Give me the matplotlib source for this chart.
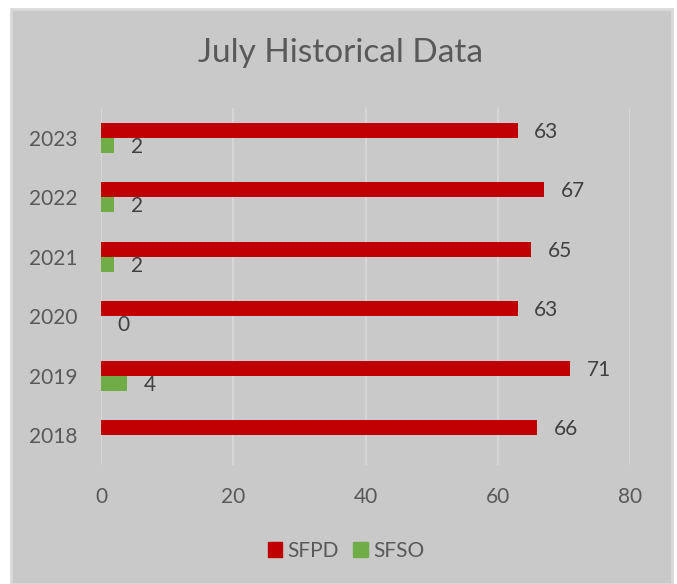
import matplotlib
matplotlib.use("Agg")
import matplotlib.pyplot as plt
from matplotlib.patches import Rectangle
import numpy as np

years = ["2018", "2019", "2020", "2021", "2022", "2023"]
sfpd = [66, 71, 63, 65, 67, 63]
sfso = [None, 4, 0, 2, 2, 2]
xticks = [0, 20, 40, 60, 80]

FONT = ["Lato", "DejaVu Sans"]
plt.rcParams["font.family"] = FONT

W, H = 677, 584
fig = plt.figure(figsize=(W / 100, H / 100), dpi=100)
fig.patch.set_facecolor("white")

# grey chart panel with light border
fig.patches.append(Rectangle((11 / W, 0), (672 - 11) / W, (H - 9) / H, transform=fig.transFigure,
                             facecolor="#c9c9c9", edgecolor="#d9d9d9", linewidth=2, zorder=-10))

ax = fig.add_axes([101 / W, (H - 465) / H, (630 - 101) / W, (465 - 108) / H])
ax.set_facecolor("none")
ax.set_zorder(1)

y = np.arange(len(years))
h = 0.252
red = "#c00000"
green = "#70ad47"

ax.barh(y + h / 2, sfpd, height=h, color=red, zorder=3)
sfso_vals = [v if v is not None else 0 for v in sfso]
ax.barh(y - h / 2, sfso_vals, height=h, color=green, zorder=3)

LS = 15
for yi, v in zip(y, sfpd):
    ax.annotate(str(v), (v, yi + h / 2), xytext=(12, -1), textcoords="offset points",
                va="center", ha="left", fontsize=LS, color="#404040")
for yi, v in zip(y, sfso):
    if v is None:
        continue
    ax.annotate(str(v), (v, yi - h / 2), xytext=(12, -1), textcoords="offset points",
                va="center", ha="left", fontsize=LS, color="#404040")

ax.set_xlim(0, 80)
ax.set_ylim(-0.5, len(years) - 0.5)
ax.set_xticks(xticks)
ax.set_xticklabels([str(t) for t in xticks])
ax.set_yticks(y)
ax.set_yticklabels(years)
ax.tick_params(axis="both", length=0, labelsize=LS, labelcolor="#595959")
ax.tick_params(axis="x", pad=16)
ax.tick_params(axis="y", pad=17)
ax.xaxis.grid(True, color="#d9d9d9", linewidth=1.2, zorder=0)
ax.set_axisbelow(True)
for s in ax.spines.values():
    s.set_visible(False)

fig.text(341 / W, 1 - 53 / H, "July Historical Data", ha="center", va="center",
         fontsize=24, color="#595959")

handles = [Rectangle((0, 0), 1, 1, color=red), Rectangle((0, 0), 1, 1, color=green)]
fig.legend(handles, ["SFPD", "SFSO"], loc="center", bbox_to_anchor=(346 / W, 1 - 551 / H),
           ncol=2, frameon=False, fontsize=LS, labelcolor="#595959",
           handlelength=0.7, handleheight=0.7, handletextpad=0.25, columnspacing=0.7)

fig.savefig("out.png", dpi=100, facecolor=fig.get_facecolor())
